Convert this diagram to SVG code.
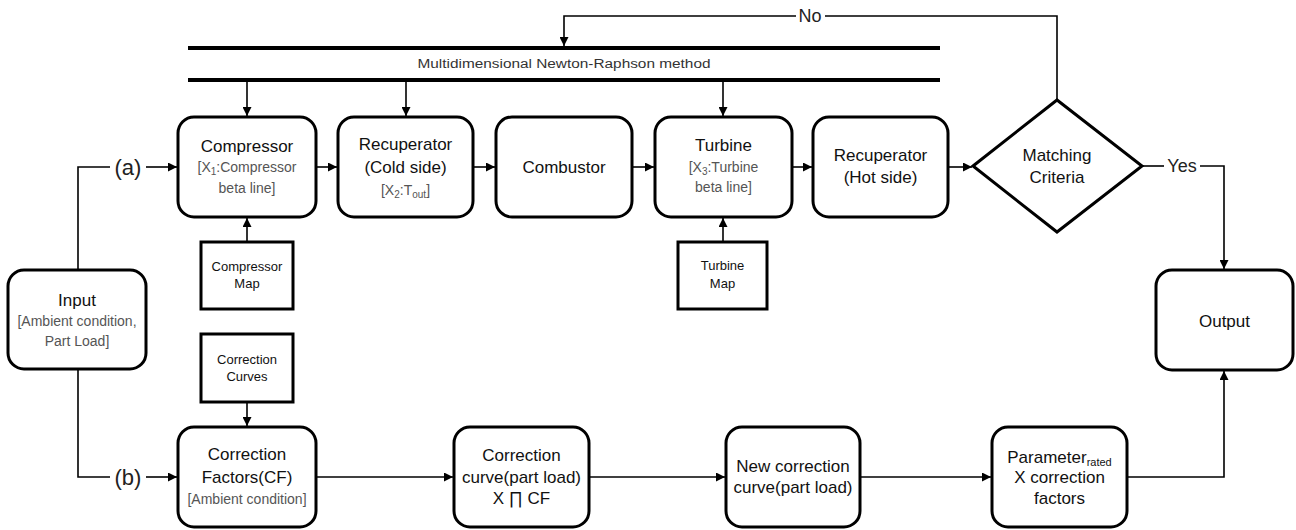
<svg xmlns="http://www.w3.org/2000/svg" width="1296" height="530" viewBox="0 0 1296 530">
<defs>
<marker id="ah" viewBox="0 0 10 10" refX="10" refY="5" markerWidth="9" markerHeight="9" markerUnits="userSpaceOnUse" orient="auto">
<path d="M0,0 L10,5 L0,10 z" fill="#000"/>
</marker>
<style>
.box{fill:#fff;stroke:#000;stroke-width:3}
.sq{fill:#fff;stroke:#000;stroke-width:3}
.bar{stroke:#000;stroke-width:4}
.ln{fill:none;stroke:#000;stroke-width:1.6}
.ar{fill:none;stroke:#000;stroke-width:1.6;marker-end:url(#ah)}
text{font-family:"Liberation Sans",Arial,sans-serif;text-anchor:middle}
.t{font-size:17px;fill:#111}
.s{font-size:14px;fill:#555}
.m{font-size:13px;fill:#111}
.lab{font-size:22px;fill:#222}
.yn{font-size:18px;fill:#222}
.nr{font-size:12.5px;fill:#333}
</style>
</defs>

<g id="newton-raphson">
<line class="bar" x1="188" y1="48" x2="940" y2="48"/>
<line class="bar" x1="188" y1="80" x2="940" y2="80"/>
<text class="nr" x="564" y="68" textLength="293" lengthAdjust="spacingAndGlyphs">Multidimensional Newton-Raphson method</text>
</g>

<g id="connectors">
<polyline class="ln" points="1057,100 1057,16 825,16"/>
<polyline class="ar" points="796,16 564,16 564,46"/>
<line class="ar" x1="247" y1="82" x2="247" y2="116"/>
<line class="ar" x1="406" y1="82" x2="406" y2="116"/>
<line class="ar" x1="723" y1="82" x2="723" y2="116"/>
<line class="ar" x1="316" y1="167" x2="337" y2="167"/>
<line class="ar" x1="473" y1="167" x2="495" y2="167"/>
<line class="ar" x1="632" y1="167" x2="654" y2="167"/>
<line class="ar" x1="792" y1="167" x2="812" y2="167"/>
<line class="ar" x1="948" y1="167" x2="972" y2="167"/>
<line class="ar" x1="247" y1="242" x2="247" y2="218"/>
<line class="ar" x1="723" y1="242" x2="723" y2="218"/>
<line class="ar" x1="247" y1="402" x2="247" y2="426"/>
<polyline class="ln" points="78,270 78,167 110,167"/>
<line class="ar" x1="146" y1="167" x2="177" y2="167"/>
<polyline class="ln" points="78,369 78,477 110,477"/>
<line class="ar" x1="146" y1="477" x2="177" y2="477"/>
<line class="ar" x1="316" y1="477" x2="453" y2="477"/>
<line class="ar" x1="589" y1="477" x2="725" y2="477"/>
<line class="ar" x1="860" y1="477" x2="991" y2="477"/>
<polyline class="ar" points="1127,477 1224,477 1224,371"/>
<line class="ln" x1="1142" y1="166" x2="1164" y2="166"/>
<polyline class="ar" points="1200,166 1224,166 1224,269"/>
<text class="yn" x="810" y="22">No</text>
<text class="yn" x="1182" y="172">Yes</text>
<text class="lab" x="128" y="175">(a)</text>
<text class="lab" x="128" y="485">(b)</text>
</g>

<g id="input">
<rect class="box" x="8" y="270" width="138" height="99" rx="16"/>
<text class="t" x="77" y="306">Input</text>
<text class="s" x="77" y="326">[Ambient condition,</text>
<text class="s" x="77" y="346">Part Load]</text>
</g>

<g id="compressor">
<rect class="box" x="178" y="117" width="138" height="100" rx="16"/>
<text class="t" x="247" y="152">Compressor</text>
<text class="s" x="247" y="172">[X<tspan font-size="10" dy="3">1</tspan><tspan dy="-3">:Compressor</tspan></text>
<text class="s" x="247" y="193">beta line]</text>
</g>

<g id="recuperator-cold">
<rect class="box" x="338" y="117" width="135" height="100" rx="16"/>
<text class="t" x="405.5" y="150">Recuperator</text>
<text class="t" x="405.5" y="173">(Cold side)</text>
<text class="s" x="405.5" y="195">[X<tspan font-size="10" dy="3">2</tspan><tspan dy="-3">:T</tspan><tspan font-size="10" dy="3">out</tspan><tspan dy="-3">]</tspan></text>
</g>

<g id="combustor">
<rect class="box" x="496" y="117" width="136" height="100" rx="16"/>
<text class="t" x="564" y="173">Combustor</text>
</g>

<g id="turbine">
<rect class="box" x="655" y="117" width="137" height="100" rx="16"/>
<text class="t" x="723.5" y="151">Turbine</text>
<text class="s" x="723.5" y="172">[X<tspan font-size="10" dy="3">3</tspan><tspan dy="-3">:Turbine</tspan></text>
<text class="s" x="723.5" y="192">beta line]</text>
</g>

<g id="recuperator-hot">
<rect class="box" x="813" y="117" width="135" height="100" rx="16"/>
<text class="t" x="880.5" y="161">Recuperator</text>
<text class="t" x="880.5" y="183">(Hot side)</text>
</g>

<g id="matching-criteria">
<polygon class="box" points="973,166 1057,100 1142,166 1057,232"/>
<text class="t" x="1057" y="161">Matching</text>
<text class="t" x="1057" y="183">Criteria</text>
</g>

<g id="output">
<rect class="box" x="1156" y="270" width="137" height="100" rx="16"/>
<text class="t" x="1224.5" y="327">Output</text>
</g>

<g id="compressor-map">
<rect class="sq" x="201" y="242" width="92" height="67"/>
<text class="m" x="247" y="271">Compressor</text>
<text class="m" x="247" y="288">Map</text>
</g>

<g id="turbine-map">
<rect class="sq" x="678" y="242" width="89" height="67"/>
<text class="m" x="722.5" y="270">Turbine</text>
<text class="m" x="722.5" y="288">Map</text>
</g>

<g id="correction-curves">
<rect class="sq" x="201" y="334" width="92" height="68"/>
<text class="m" x="247" y="364">Correction</text>
<text class="m" x="247" y="381">Curves</text>
</g>

<g id="correction-factors">
<rect class="box" x="178" y="427" width="138" height="100" rx="16"/>
<text class="t" x="247" y="460">Correction</text>
<text class="t" x="247" y="483">Factors(CF)</text>
<text class="s" x="247" y="504">[Ambient condition]</text>
</g>

<g id="correction-curve-part-load">
<rect class="box" x="454" y="427" width="135" height="100" rx="16"/>
<text class="t" x="521.5" y="461">Correction</text>
<text class="t" x="521.5" y="483">curve(part load)</text>
<text class="t" x="521.5" y="504">X ∏ CF</text>
</g>

<g id="new-correction-curve">
<rect class="box" x="726" y="427" width="134" height="100" rx="16"/>
<text class="t" x="793" y="472">New correction</text>
<text class="t" x="793" y="493">curve(part load)</text>
</g>

<g id="parameter-rated">
<rect class="box" x="992" y="427" width="135" height="100" rx="16"/>
<text class="t" x="1059.5" y="463">Parameter<tspan font-size="11" dy="3">rated</tspan></text>
<text class="t" x="1059.5" y="483">X correction</text>
<text class="t" x="1059.5" y="504">factors</text>
</g>
</svg>
